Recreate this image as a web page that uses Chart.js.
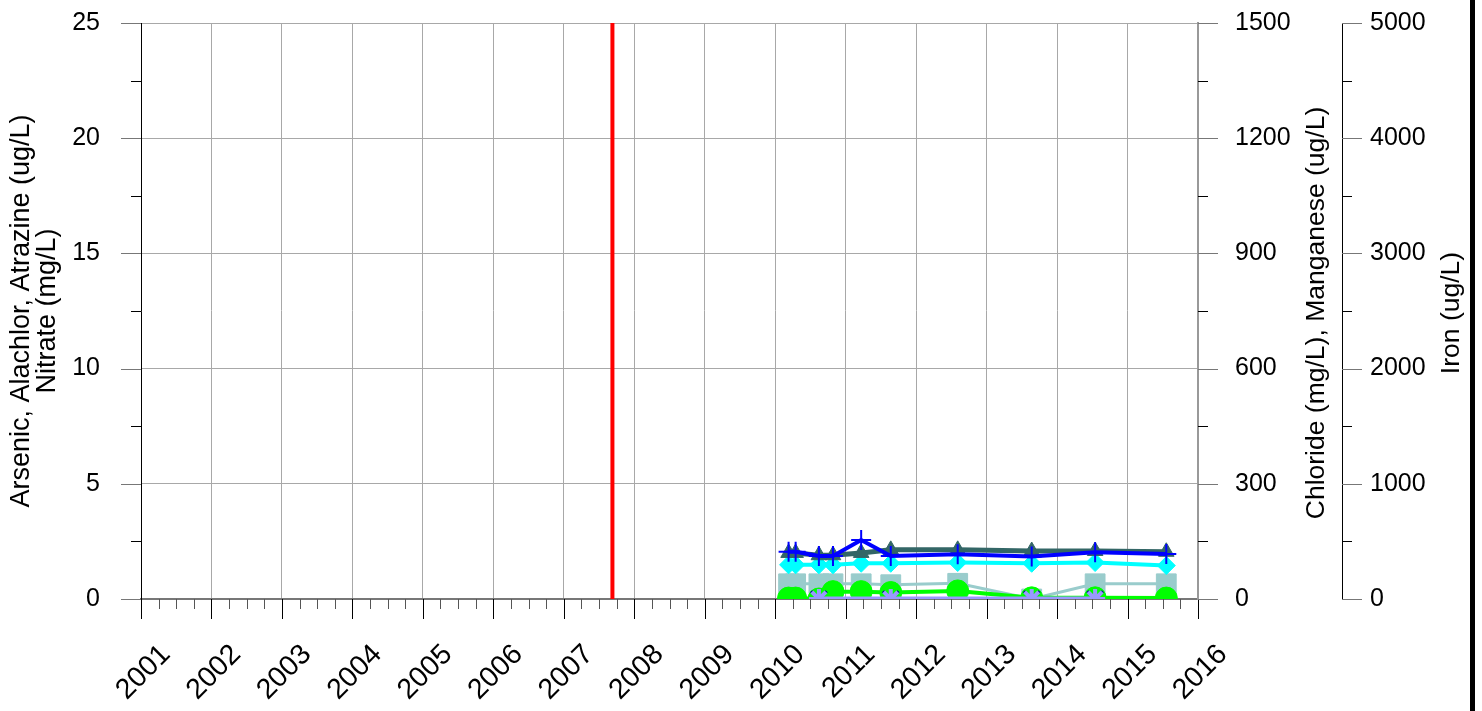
<!DOCTYPE html>
<html>
<head>
<meta charset="utf-8">
<title>Well water quality</title>
<script src="https://cdn.jsdelivr.net/npm/chart.js@4"></script>
<style>
  html, body { margin: 0; padding: 0; background: #fff; }
  #wrap { width: 1470px; height: 711px; border-right: 5px solid #000; }
  canvas { display: block; }
</style>
</head>
<body>
<div id="wrap"><canvas id="chart" width="1470" height="711"></canvas></div>
<script>
// Sample dates (decimal years)
const sampleDates = [2010.19, 2010.29, 2010.62, 2010.82, 2011.22, 2011.64, 2012.59, 2013.64, 2014.54, 2015.55];
// Results per sample date
const chlorideMgL = [120, 120, 114, 114, 120, 128, 128, 125, 125, 123];
const ironUgL = [410, 410, 374, 374, 512, 374, 388, 368, 406, 390];
const manganeseUgL = [89, 89, 89, 89, 93, 93, 95, 93, 95, 87];
const arsenicUgL = [0.66, 0.66, 0.66, 0.66, 0.66, 0.62, 0.68, 0, 0.66, 0.66];
const nitrateMgL = [0.04, 0.04, 0, 0.32, 0.32, 0.28, 0.35, 0.05, 0.05, 0.04];

// Herbicide samples were taken on fewer dates
const herbicideDates = [2010.62, 2011.64, 2013.64, 2014.54];
const alachlorUgL = [0, 0, 0, 0];
const atrazineUgL = [0, 0, 0, 0];

// Marker year (vertical red line)
const markerYear = 2007.69;

const yearMin = 2001;
const yearMax = 2016;

const FONT = "'Liberation Sans', Arial, sans-serif";
const rightTitles = { y1: 'Chloride (mg/L), Manganese (ug/L)', y2: 'Iron (ug/L)' };

function pts(xs, ys) {
    return xs.map((x, i) => ({ x: x, y: ys[i] }));
}

// Minor and major tick marks on all four axes, plus the right axis titles
const axisExtras = {
    id: 'axisExtras',
    afterDraw(chart) {
        const ctx = chart.ctx;
        const { x, y, y1, y2 } = chart.scales;
        const area = chart.chartArea;
        ctx.save();
        ctx.lineWidth = 1;

        for (let q = yearMin * 4; q <= yearMax * 4; q++) {
            const major = q % 4 === 0;
            const px = Math.round(x.getPixelForValue(q / 4)) + 0.5;
            ctx.strokeStyle = major ? '#000' : '#555';
            ctx.beginPath();
            ctx.moveTo(px, x.top);
            ctx.lineTo(px, x.top + (major ? 20 : 10));
            ctx.stroke();
        }

        const vertical = (scale, step, edge, dir) => {
            for (let v = scale.min, i = 0; v <= scale.max + 1e-9; v += step, i++) {
                const major = i % 2 === 0;
                const py = Math.round(scale.getPixelForValue(v)) + 0.5;
                ctx.strokeStyle = major ? '#777' : '#000';
                const len = major ? 20 : 10;
                ctx.beginPath();
                ctx.moveTo(edge, py);
                ctx.lineTo(edge + dir * len, py);
                ctx.stroke();
            }
        };
        vertical(y, 2.5, y.right, -1);
        vertical(y1, 150, y1.left, 1);
        vertical(y2, 500, y2.left, 1);

        // right-hand titles read bottom to top, like the left one
        ctx.fillStyle = '#000';
        ctx.font = '26.5px ' + FONT;
        ctx.textAlign = 'center';
        ctx.textBaseline = 'middle';
        const midY = (area.top + area.bottom) / 2 + 2;
        [[y1, 25], [y2, 18]].forEach(([scale, off]) => {
            ctx.save();
            ctx.translate(scale.right - off, midY);
            ctx.rotate(-Math.PI / 2);
            ctx.fillText(rightTitles[scale.id], 0, 0);
            ctx.restore();
        });
        ctx.restore();
    }
};

const GRID = '#a8a8a8';
const hidden = 'rgba(0,0,0,0)';

new Chart(document.getElementById('chart'), {
    type: 'line',
    data: {
        datasets: [
            {
                label: 'Iron',
                data: pts(sampleDates, ironUgL),
                yAxisID: 'y2',
                borderColor: '#0000ff',
                backgroundColor: '#0000ff',
                borderWidth: 4,
                pointStyle: 'cross',
                pointRadius: 10,
                pointBorderWidth: 2
            },
            {
                label: 'Chloride',
                data: pts(sampleDates, chlorideMgL),
                yAxisID: 'y1',
                borderColor: '#336666',
                backgroundColor: '#336666',
                borderWidth: 5,
                pointStyle: 'triangle',
                pointRadius: 9,
                pointBorderWidth: 1
            },
            {
                label: 'Manganese',
                data: pts(sampleDates, manganeseUgL),
                yAxisID: 'y1',
                borderColor: '#00ffff',
                backgroundColor: '#00ffff',
                borderWidth: 4,
                pointStyle: 'rectRot',
                pointRadius: 9,
                pointBorderWidth: 1
            },
            {
                label: 'Atrazine',
                data: pts(herbicideDates, atrazineUgL),
                yAxisID: 'y',
                borderColor: '#9999ff',
                backgroundColor: '#9999ff',
                borderWidth: 5,
                pointStyle: 'star',
                pointRadius: 10,
                pointBorderWidth: 4
            },
            {
                label: 'Alachlor',
                data: pts(herbicideDates, alachlorUgL),
                yAxisID: 'y',
                borderColor: '#000099',
                backgroundColor: '#000099',
                borderWidth: 3,
                pointStyle: 'crossRot',
                pointRadius: 11,
                pointBorderWidth: 3
            },
            {
                label: 'Nitrate',
                data: pts(sampleDates, nitrateMgL),
                yAxisID: 'y',
                borderColor: '#00ff00',
                backgroundColor: '#00ff00',
                borderWidth: 4,
                pointStyle: 'circle',
                pointRadius: 11,
                pointBorderWidth: 1
            },
            {
                label: 'Arsenic',
                data: pts(sampleDates, arsenicUgL),
                yAxisID: 'y',
                borderColor: '#99cccc',
                backgroundColor: '#99cccc',
                borderWidth: 3,
                pointStyle: 'rect',
                pointRadius: 14,
                pointBorderWidth: 1
            },
            {
                label: 'marker',
                data: [{ x: markerYear, y: 0 }, { x: markerYear, y: 25 }],
                yAxisID: 'y',
                borderColor: '#ff0000',
                borderWidth: 4,
                pointRadius: 0
            }
        ]
    },
    options: {
        responsive: false,
        animation: false,
        devicePixelRatio: 1,
        layout: { padding: { top: 23, left: 0, right: 0, bottom: 0 } },
        plugins: {
            legend: { display: false },
            tooltip: { enabled: false }
        },
        elements: { line: { tension: 0 } },
        scales: {
            x: {
                type: 'linear',
                min: yearMin,
                max: yearMax,
                afterFit: s => { s.height = 112; },
                grid: { color: GRID, drawTicks: true, tickLength: 39, tickColor: hidden },
                border: { color: '#777', width: 2 },
                ticks: {
                    stepSize: 1,
                    autoSkip: false,
                    minRotation: 45,
                    maxRotation: 45,
                    padding: 0,
                    labelOffset: 25,
                    color: '#000',
                    font: { family: FONT, size: 28.5 },
                    callback: v => String(v)
                }
            },
            y: {
                position: 'left',
                min: 0,
                max: 25,
                afterFit: s => { s.width = 141; },
                grid: { color: GRID, drawTicks: true, tickLength: 41, tickColor: hidden },
                border: { color: '#000', width: 1 },
                ticks: {
                    stepSize: 5,
                    padding: 0,
                    color: '#000',
                    font: { family: FONT, size: 25 },
                    callback: v => String(v)
                },
                title: {
                    display: true,
                    text: ['Arsenic, Alachlor, Atrazine (ug/L)', 'Nitrate (mg/L)'],
                    color: '#000',
                    font: { family: FONT, size: 27, lineHeight: 0.97 },
                    padding: { top: 8, bottom: 0 }
                }
            },
            y1: {
                position: 'right',
                min: 0,
                max: 1500,
                afterFit: s => { s.width = 144; },
                grid: { drawOnChartArea: false, drawTicks: true, tickLength: 37, tickColor: hidden },
                border: { color: '#999', width: 2 },
                ticks: {
                    stepSize: 300,
                    padding: 0,
                    color: '#000',
                    font: { family: FONT, size: 25 },
                    callback: v => String(v)
                }
            },
            y2: {
                position: 'right',
                min: 0,
                max: 5000,
                afterFit: s => { s.width = 128; },
                grid: { drawOnChartArea: false, drawTicks: true, tickLength: 28, tickColor: hidden },
                border: { color: '#000', width: 1 },
                ticks: {
                    stepSize: 1000,
                    padding: 0,
                    color: '#000',
                    font: { family: FONT, size: 25 },
                    callback: v => String(v)
                }
            }
        }
    },
    plugins: [axisExtras]
});
</script>
</body>
</html>
